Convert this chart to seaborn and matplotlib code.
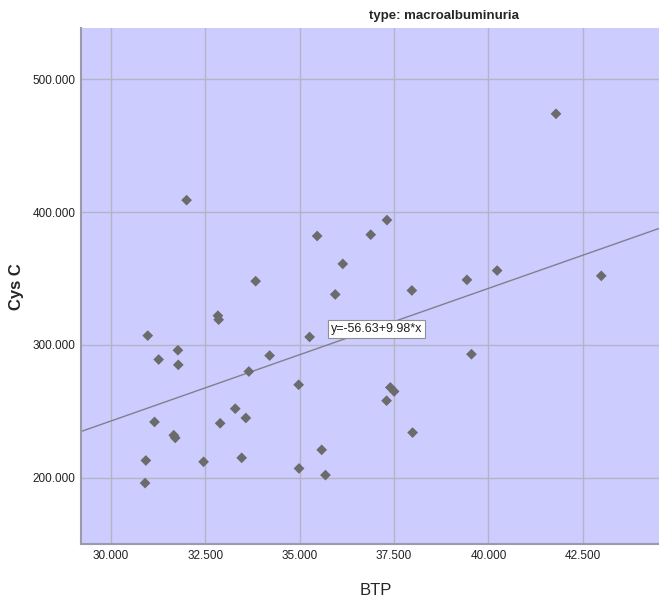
import numpy as np
import pandas as pd
import matplotlib
matplotlib.use("Agg")
import matplotlib.pyplot as plt
import seaborn as sns

# --- data ---
btp = [32.00, 35.46, 36.88, 36.14, 33.83, 35.94, 32.83, 32.85, 30.97, 35.26,
       31.77, 31.26, 31.78, 34.20, 33.65, 34.97, 33.29, 33.57, 31.15, 32.89,
       31.66, 31.70, 35.58, 30.92, 32.45, 33.46, 34.98, 35.68, 30.90, 41.79,
       37.31, 37.97, 39.43, 40.23, 42.99, 39.55, 37.40, 37.50, 37.30, 37.99]
cys_c = [409, 382, 383, 361, 348, 338, 322, 319, 307, 306,
         296, 289, 285, 292, 280, 270, 252, 245, 242, 241,
         232, 230, 221, 213, 212, 215, 207, 202, 196, 474,
         394, 341, 349, 356, 352, 293, 268, 265, 258, 234]
fit_intercept = -56.63
fit_slope = 9.98
panel_title = "type: macroalbuminuria"
x_ticks = [30.0, 32.5, 35.0, 37.5, 40.0, 42.5]
y_ticks = [200, 300, 400, 500]

df = pd.DataFrame({"BTP": btp, "Cys C": cys_c})

sns.set_style("white")
plt.rcParams["font.family"] = ["Liberation Sans", "DejaVu Sans"]

fig = plt.figure(figsize=(6.59, 6.01), dpi=100)
ax = fig.add_axes([0.1234, 0.0948, 0.8766, 0.8586])
ax.set_facecolor("#ccccff")

ax.set_xlim(29.21, 44.52)
ax.set_ylim(150.1, 538.6)
ax.set_xticks(x_ticks)
ax.set_yticks(y_ticks)
ax.set_xticklabels([f"{v:.3f}" for v in x_ticks])
ax.set_yticklabels([f"{v:.3f}" for v in y_ticks])
ax.grid(True, color="#b4b4c4", linewidth=1.0)
ax.set_axisbelow(True)

# regression line from SPSS fit
ax.axline((0, fit_intercept), slope=fit_slope, color="#80808c", linewidth=1.0, zorder=2)

sns.scatterplot(data=df, x="BTP", y="Cys C", marker="D", s=30,
                color="#6b6b6b", edgecolor="none", ax=ax, zorder=3)

ax.text(35.82, 312, f"y={fit_intercept:.2f}+{fit_slope:.2f}*x", fontsize=9,
        ha="left", va="center", color="#202020", zorder=4,
        bbox=dict(boxstyle="square,pad=0.25", facecolor="white", edgecolor="#909090", linewidth=0.8))

for side in ["top", "right"]:
    ax.spines[side].set_visible(False)
for side in ["left", "bottom"]:
    ax.spines[side].set_color("#9a9aaa")
    ax.spines[side].set_linewidth(1.5)

ax.tick_params(axis="both", length=0, labelsize=8.5, labelcolor="#222222", pad=4)
ax.set_xlabel("BTP", fontsize=12)
ax.set_ylabel("Cys C", fontsize=12, fontweight="bold")
ax.xaxis.set_label_coords(0.509, -0.075)
ax.yaxis.set_label_coords(-0.099, 0.498)

fig.text(0.674, 0.973, panel_title, fontsize=9.5, fontweight="bold", ha="center", va="center")

fig.savefig("out.png", dpi=100)
